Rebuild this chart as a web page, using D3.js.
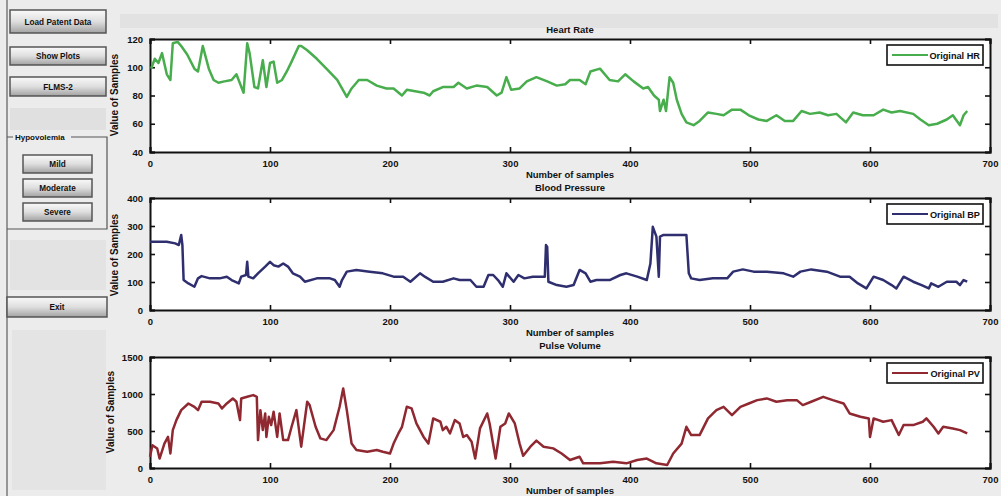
<!DOCTYPE html>
<html><head><meta charset="utf-8">
<script src="https://cdn.jsdelivr.net/npm/d3@7"></script>
<style>body{margin:0;background:#ececec;}svg{display:block;font-family:"Liberation Sans",Arial,sans-serif;}</style>
</head><body><svg id="c" width="1001" height="496"></svg>
<script>
// ---------- data ----------
const xTicks = [0,100,200,300,400,500,600,700];
const hrTicks = [40,60,80,100,120];
const bpTicks = [0,100,200,300,400];
const pvTicks = [0,500,1000,1500];
const buttonLabels = ["Load Patent Data","Show Plots","FLMS-2"];
const hypoLabels = ["Mild","Moderate","Severe"];

const hrSample = [1,4,7,10,14,17,19,23,26,31,37,40,44,49,53,57,62,68,72,78,81,83,87,90,94,97,100,103,106,110,114,118,124,126,131,139,147,156,164,168,174,181,189,197,203,210,214,221,228,233,236,244,253,257,264,272,281,289,293,297,301,308,314,322,331,339,346,350,358,363,367,375,383,390,396,403,411,415,420,424,425,428,430,433,436,439,443,447,453,458,465,472,478,485,492,499,507,514,522,529,536,543,550,558,565,572,580,586,594,603,611,618,625,636,642,649,656,664,669,675,678,681];
const hrValue = [99,106,103,110,95,91,117,118,115,109,99,97,115,99,91,89,90,91,95,82,117,110,86,85,105,86,103,104,89,91,97,104,115,115,112,106,99,91,79,85,91,91,87,85,85,80,84,83,82,80,83,86,86,89,85,87,86,80,82,93,84,85,90,93,90,87,88,91,91,88,97,99,91,90,95,90,85,86,80,77,69,77,69,93,89,77,67,61,59,62,68,67,66,70,70,66,63,62,66,62,62,69,67,68,66,67,61,68,66,66,70,68,69,67,63,59,60,63,66,59,66,69];

const bpSample = [0,14,21,24,26,27,28,32,37,40,43,50,58,64,68,74,76,80,81,82,86,90,96,100,103,107,111,115,119,125,129,139,150,154,158,160,164,172,183,194,203,211,217,225,229,236,244,253,258,267,272,278,282,286,290,294,297,303,307,312,319,325,329,330,331,332,339,347,353,358,363,367,372,383,392,397,406,414,417,419,422,424,425,428,436,447,449,451,458,469,481,486,494,503,514,528,536,542,551,564,575,583,590,597,603,611,618,622,628,636,643,649,651,657,664,672,675,678,681];
const bpValue = [244,244,238,232,268,232,107,95,83,113,121,113,113,119,107,95,119,125,172,119,113,131,155,172,160,155,166,155,131,119,101,113,113,107,83,107,137,143,137,131,119,119,101,131,119,101,101,113,107,107,83,83,125,125,107,83,131,101,125,113,119,119,119,232,225,101,89,83,89,143,131,101,107,107,125,131,119,107,166,297,262,119,262,268,268,268,131,113,107,113,113,137,145,137,137,131,119,137,145,137,119,119,95,77,119,107,89,77,119,101,89,77,95,83,101,101,89,107,101];

const pvSample = [0,2,6,8,12,15,17,19,22,26,32,37,40,43,50,57,60,64,69,72,75,76,81,86,89,90,92,94,96,97,99,101,103,106,108,111,115,118,122,126,131,133,138,142,147,153,158,161,164,168,172,181,189,194,200,203,207,210,214,218,222,228,232,236,242,244,247,250,254,258,261,264,268,271,275,281,283,288,292,296,299,304,308,311,317,322,328,336,343,350,358,361,375,386,397,406,414,422,431,436,443,447,451,458,465,472,478,485,492,499,506,514,522,531,539,544,551,561,569,578,583,592,599,600,603,611,618,624,628,636,644,647,653,657,661,669,675,681];
const pvValue = [152,308,263,128,330,420,196,512,647,782,872,827,782,895,895,872,805,872,940,895,647,940,962,985,962,377,782,512,737,420,692,580,760,420,737,377,377,557,782,288,895,850,557,400,377,512,827,1075,782,330,243,220,243,220,196,330,467,557,827,805,602,420,330,670,625,512,557,467,647,602,420,445,355,128,535,737,602,128,557,602,737,602,330,165,288,370,288,265,196,108,152,63,63,85,63,108,128,63,40,196,330,557,445,445,670,782,827,715,827,872,917,940,895,917,917,850,895,962,917,872,737,692,670,420,670,625,647,445,580,580,625,670,557,467,557,535,512,467];

// ---------- drawing ----------
const svg = d3.select("#c");
const F = '"Liberation Sans",Arial,sans-serif';

const defs = svg.append("defs");
const g = defs.append("linearGradient").attr("id","btn").attr("x1",0).attr("y1",0).attr("x2",0).attr("y2",1);
g.append("stop").attr("offset","0%").attr("stop-color","#fafafa");
g.append("stop").attr("offset","50%").attr("stop-color","#dedede");
g.append("stop").attr("offset","100%").attr("stop-color","#a2a2a2");

svg.append("rect").attr("x",120).attr("y",14).attr("width",878).attr("height",14).attr("fill","#e2e2e2");
svg.append("line").attr("x1",7).attr("x2",7).attr("y1",0).attr("y2",496).attr("stroke","#7a7a7a").attr("stroke-width",1.5);

function button(x,y,w,h,label){
  svg.append("rect").attr("x",x).attr("y",y).attr("width",w).attr("height",h)
    .attr("fill","url(#btn)").attr("stroke","#555").attr("stroke-width",1.5);
  svg.append("text").attr("x",x+w/2).attr("y",y+h/2+3).attr("text-anchor","middle")
    .attr("font-size",8.2).attr("font-weight","bold").attr("fill","#111").text(label);
}
const mainBtnY = [[10,23],[47,18],[77,19]];
buttonLabels.forEach((l,i)=>button(10,mainBtnY[i][0],96,mainBtnY[i][1],l));
svg.append("rect").attr("x",10).attr("y",108).attr("width",96).attr("height",22).attr("fill","#e0e0e0");
svg.append("path").attr("d","M7,137 H107 V229 H7").attr("fill","none").attr("stroke","#555").attr("stroke-width",1.2);
svg.append("rect").attr("x",13).attr("y",132).attr("width",58).attr("height",9).attr("fill","#ececec");
svg.append("text").attr("x",15).attr("y",140).attr("font-size",8).attr("font-weight","bold").attr("fill","#111").text("Hypovolemia");
const hypoY = [155,179,203];
hypoLabels.forEach((l,i)=>button(23,hypoY[i],69,18,l));
svg.append("rect").attr("x",10).attr("y",240).attr("width",96).attr("height",50).attr("fill","#e3e3e3");
button(7,297,100,20,"Exit");
svg.append("rect").attr("x",12).attr("y",330).attr("width",94).attr("height",160).attr("fill","#e4e4e4");

const X0 = 150, X1 = 990;
const panels = [
  {top:39, bot:152, dom:[40,120], ticks:hrTicks, xs:hrSample, ys:hrValue, color:"#48ad4c", title:"Heart Rate", legend:"Original HR", titleY:33, ylabY:95, ylabX:118},
  {top:198, bot:310, dom:[0,400], ticks:bpTicks, xs:bpSample, ys:bpValue, color:"#2f2f70", title:"Blood Pressure", legend:"Original BP", titleY:191, ylabY:255, ylabX:118},
  {top:357, bot:468, dom:[0,1500], ticks:pvTicks, xs:pvSample, ys:pvValue, color:"#8f2830", title:"Pulse Volume", legend:"Original PV", titleY:349, ylabY:412, ylabX:114}
];
panels.forEach(p=>{
  const x = d3.scaleLinear().domain([0,700]).range([X0,X1]);
  const y = d3.scaleLinear().domain(p.dom).range([p.bot,p.top]);
  const G = svg.append("g");
  G.append("rect").attr("x",X0).attr("y",p.top).attr("width",X1-X0).attr("height",p.bot-p.top).attr("fill","#fff");
  const ax = (gen, tr) => G.append("g").attr("transform",tr).call(gen);
  const bottom = ax(d3.axisBottom(x).tickValues(xTicks).tickSize(-5).tickPadding(8).tickFormat(d3.format("d")), `translate(0,${p.bot})`);
  const top = ax(d3.axisTop(x).tickValues(xTicks).tickSize(-5).tickFormat(""), `translate(0,${p.top})`);
  const left = ax(d3.axisLeft(y).tickValues(p.ticks).tickSize(-5).tickPadding(7).tickFormat(d3.format("d")), `translate(${X0},0)`);
  const right = ax(d3.axisRight(y).tickValues(p.ticks).tickSize(-5).tickFormat(""), `translate(${X1},0)`);
  [bottom,top,left,right].forEach(a=>{
    a.select(".domain").attr("stroke","#111").attr("stroke-width",2);
    a.selectAll(".tick line").attr("stroke","#111").attr("stroke-width",1.6);
    a.selectAll("text").attr("font-size",9.5).attr("font-weight","bold").attr("fill","#111").attr("font-family",F);
  });
  const line = d3.line().x((d,i)=>x(p.xs[i])).y((d,i)=>y(p.ys[i]));
  G.append("path").datum(p.ys).attr("d",line).attr("fill","none").attr("stroke",p.color).attr("stroke-width",2.5).attr("stroke-linejoin","round");
  svg.append("text").attr("x",(X0+X1)/2).attr("y",p.titleY).attr("text-anchor","middle").attr("font-size",9.5).attr("font-weight","bold").attr("fill","#111").text(p.title);
  svg.append("text").attr("x",(X0+X1)/2).attr("y",p.bot+26).attr("text-anchor","middle").attr("font-size",9.5).attr("font-weight","bold").attr("fill","#111").text("Number of samples");
  svg.append("text").attr("transform",`translate(${p.ylabX},${p.ylabY}) rotate(-90)`).attr("text-anchor","middle").attr("font-size",10).attr("font-weight","bold").attr("fill","#111").text("Value of Samples");
  const L = svg.append("g").attr("transform",`translate(887,${p.top+6})`);
  L.append("rect").attr("width",96).attr("height",20).attr("fill","#fff").attr("stroke","#111").attr("stroke-width",1.6);
  L.append("line").attr("x1",5).attr("x2",41).attr("y1",10).attr("y2",10).attr("stroke",p.color).attr("stroke-width",2);
  L.append("text").attr("x",93).attr("y",13.5).attr("text-anchor","end").attr("font-size",9.2).attr("font-weight","bold").attr("fill","#111").text(p.legend);
});
</script></body></html>
